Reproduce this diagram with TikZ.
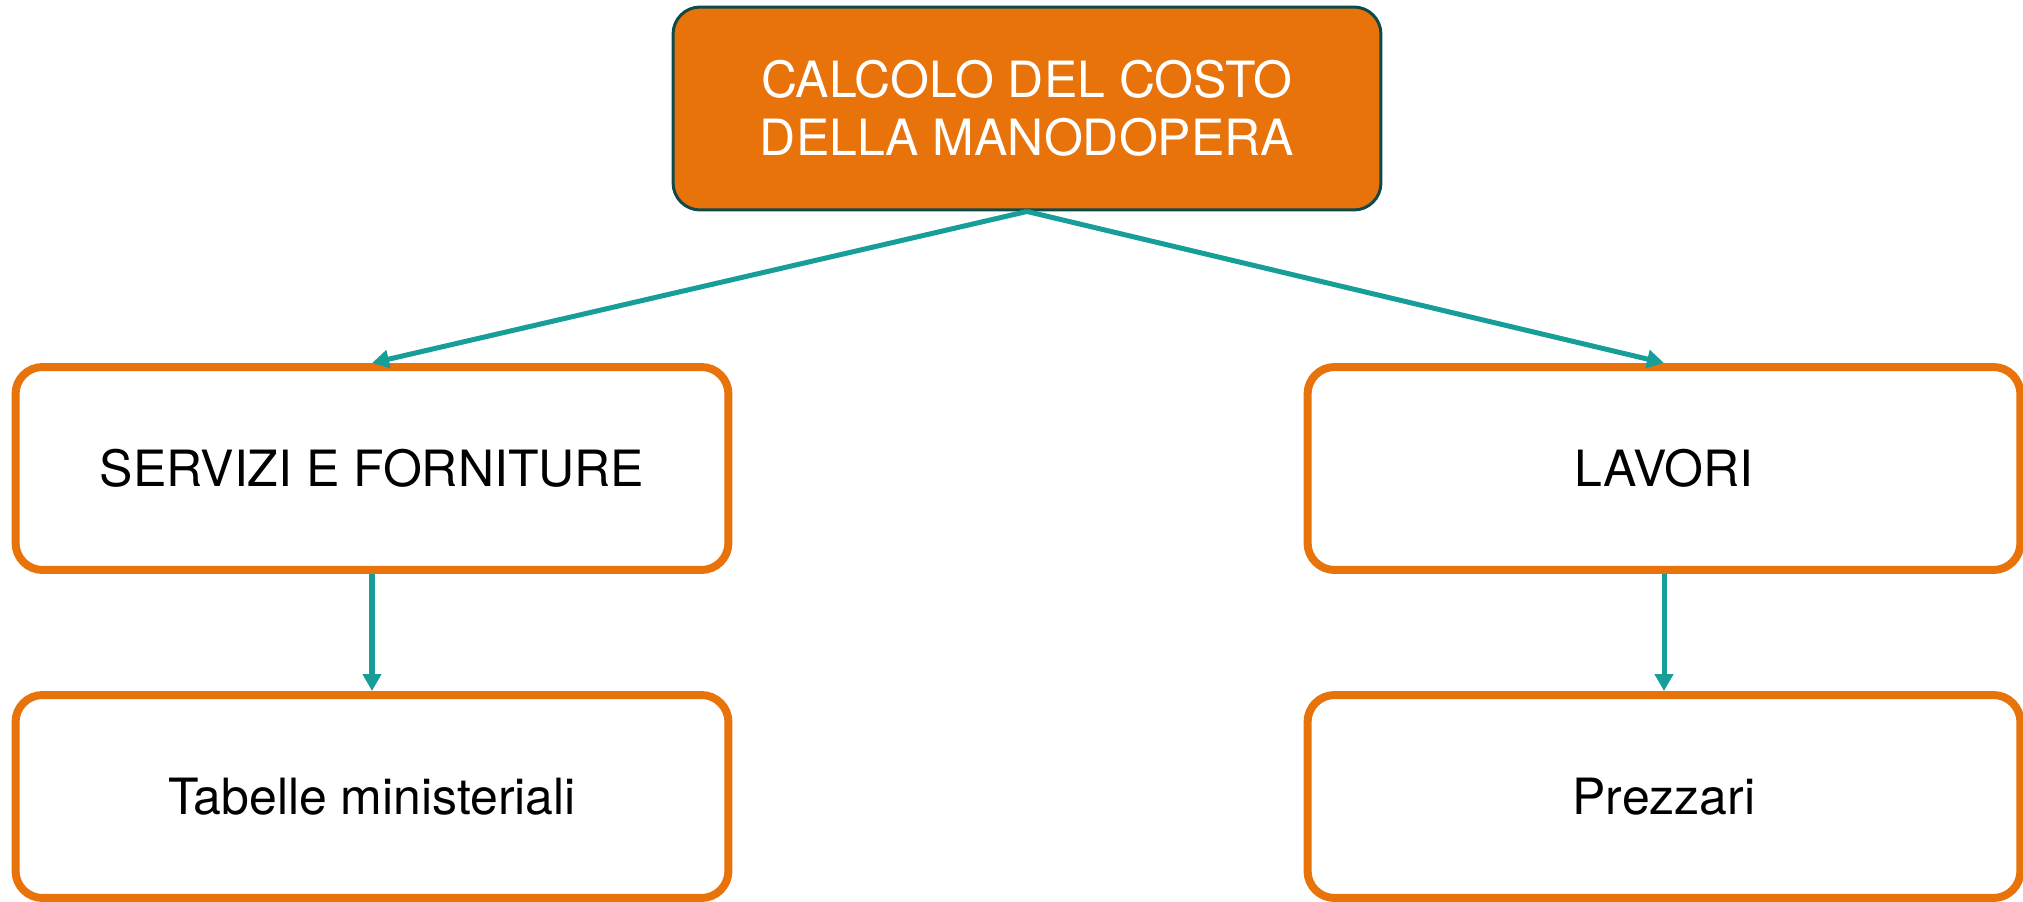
\documentclass[tikz,border=0pt]{standalone}
\usepackage{fontspec}
\setmainfont{TeX Gyre Heros}
\usetikzlibrary{arrows.meta}

\definecolor{boxorange}{RGB}{232,115,10}
\definecolor{arrowteal}{RGB}{23,158,152}
\definecolor{darkteal}{RGB}{14,74,74}

\begin{document}
\begin{tikzpicture}[x=0.02cm,y=-0.02cm,
    bigfont/.style={font=\fontsize{28.45pt}{33pt}\selectfont},
    topbox/.style={bigfont, rectangle, rounded corners=0.54cm, fill=boxorange, draw=darkteal, line width=1.7pt, minimum width=14.16cm, minimum height=4.06cm, inner sep=0pt, text=white, align=center},
    itembox/.style={bigfont, rectangle, rounded corners=0.54cm, fill=white, draw=boxorange, line width=4.55pt, minimum width=14.26cm, minimum height=4.06cm, inner sep=0pt, text=black},
    link/.style={draw=arrowteal, line width=2.85pt, -{Triangle[length=0.34cm,width=0.36cm]}}]

    % Page size
    \useasboundingbox (0,0) rectangle (2023,902);

    % Top box
    \node[topbox] (calcolo) at (1027,108.5) {CALCOLO DEL COSTO\\DELLA MANODOPERA};

    % Second row
    \node[itembox] (servizi) at (372,468.5) {SERVIZI E FORNITURE};
    \node[itembox] (lavori) at (1664,468.5) {LAVORI};

    % Third row
    \node[itembox] (tabelle) at (372,796.5) {Tabelle ministeriali};
    \node[itembox] (prezzari) at (1664,796.5) {Prezzari};

    % Arrows
    \draw[link] (calcolo.south) -- (servizi.north);
    \draw[link] (calcolo.south) -- (lavori.north);
    \draw[link] (servizi.south) -- (tabelle.north);
    \draw[link] (lavori.south) -- (prezzari.north);
\end{tikzpicture}
\end{document}
